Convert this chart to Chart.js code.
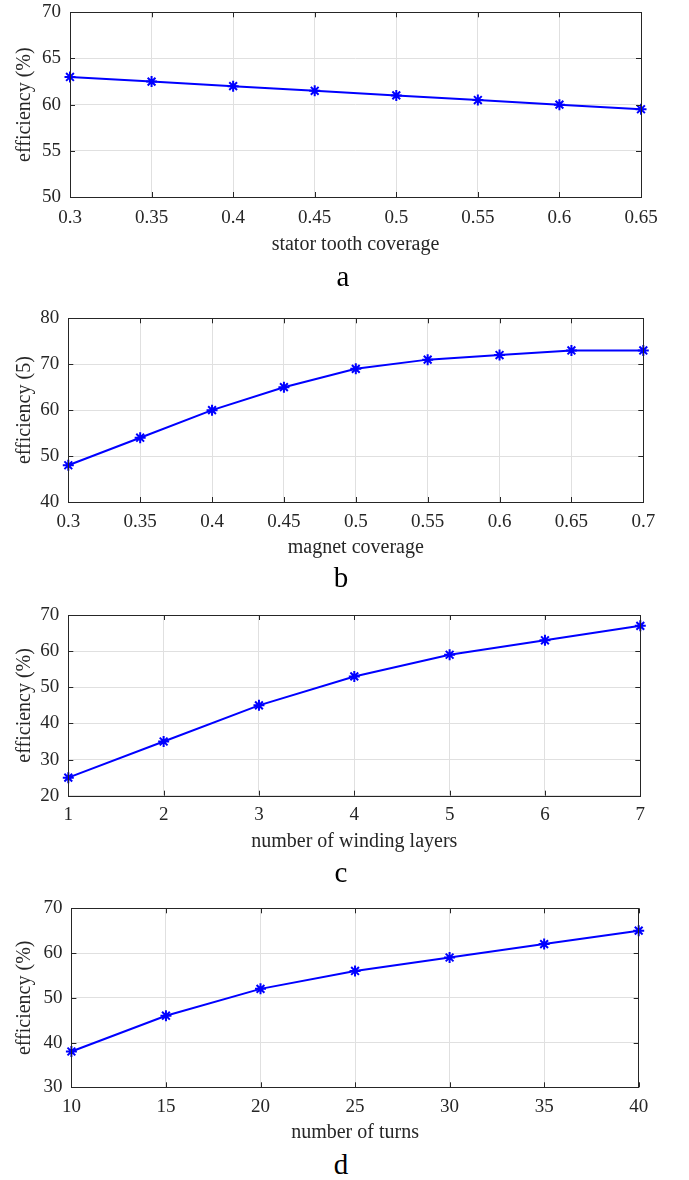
<!DOCTYPE html>
<html>
<head>
<meta charset="utf-8">
<script src="https://cdn.jsdelivr.net/npm/chart.js@4/dist/chart.umd.min.js"></script>
<style>
  body { margin: 0; background: #fff; width: 689px; height: 1180px; position: relative; overflow: hidden; }
  canvas { position: absolute; left: 0; }
  .tag { position: absolute; width: 60px; text-align: center; font-family: "Liberation Serif", serif; font-size: 29px; color: #000; line-height: 29px; }
</style>
</head>
<body>
<canvas id="chartA"></canvas>
<canvas id="chartB"></canvas>
<canvas id="chartC"></canvas>
<canvas id="chartD"></canvas>
<div class="tag" style="left:313px; top:262px;">a</div>
<div class="tag" style="left:311px; top:563px;">b</div>
<div class="tag" style="left:311px; top:858px;">c</div>
<div class="tag" style="left:311px; top:1150px;">d</div>
<script>
// a: stator tooth coverage
const toothCoverage = [0.3, 0.35, 0.4, 0.45, 0.5, 0.55, 0.6, 0.65];
const effTooth = [63, 62.5, 62, 61.5, 61, 60.5, 60, 59.5];
// b: magnet coverage
const magnetCoverage = [0.3, 0.35, 0.4, 0.45, 0.5, 0.55, 0.6, 0.65, 0.7];
const effMagnet = [48, 54, 60, 65, 69, 71, 72, 73, 73];
// c: winding layers
const windingLayers = [1, 2, 3, 4, 5, 6, 7];
const effLayers = [25, 35, 45, 53, 59, 63, 67];
// d: number of turns
const turns = [10, 15, 20, 25, 30, 35, 40];
const effTurns = [38, 46, 52, 56, 59, 62, 65];

const FONT = '"Liberation Serif", "Times New Roman", serif';
const INK = '#262626';

// MATLAB style box with inward ticks
const boxPlugin = {
    id: 'matlabBox',
    afterDatasetsDraw(chart) {
        const {ctx, chartArea: a, scales} = chart;
        const len = 5;
        ctx.save();
        ctx.strokeStyle = INK;
        ctx.lineWidth = 1;
        ctx.beginPath();
        scales.x.ticks.forEach(t => {
            const px = Math.round(scales.x.getPixelForValue(t.value)) + 0.5;
            ctx.moveTo(px, a.bottom); ctx.lineTo(px, a.bottom - len);
            ctx.moveTo(px, a.top); ctx.lineTo(px, a.top + len);
        });
        scales.y.ticks.forEach(t => {
            const py = Math.round(scales.y.getPixelForValue(t.value)) + 0.5;
            ctx.moveTo(a.left, py); ctx.lineTo(a.left + len, py);
            ctx.moveTo(a.right, py); ctx.lineTo(a.right - len, py);
        });
        ctx.stroke();
        ctx.strokeRect(Math.round(a.left) + 0.5, Math.round(a.top) + 0.5,
            Math.round(a.right - a.left), Math.round(a.bottom - a.top));
        ctx.restore();
    }
};

function makeChart(id, g, xs, ys, xTitle, yTitle, xr, yr) {
    const canvas = document.getElementById(id);
    canvas.width = 689;
    canvas.height = g.H;
    canvas.style.top = g.T + 'px';
    const points = xs.map((x, i) => ({x: x, y: ys[i]}));
    return new Chart(canvas.getContext('2d'), {
        type: 'line',
        data: {
            datasets: [{
                data: points,
                borderColor: '#0000ff',
                backgroundColor: '#0000ff',
                borderWidth: 2,
                pointStyle: 'star',
                pointRadius: 5.5,
                pointBorderWidth: 2,
                pointBorderColor: '#0000ff',
                tension: 0,
                clip: false
            }]
        },
        options: {
            responsive: false,
            animation: false,
            devicePixelRatio: 1,
            layout: { padding: { top: g.top - g.T, right: 689 - g.right, left: 0, bottom: 0 } },
            plugins: { legend: { display: false }, tooltip: { enabled: false } },
            scales: {
                x: {
                    type: 'linear',
                    min: xr[0], max: xr[1],
                    afterFit: s => { s.height = g.T + g.H - g.bottom; },
                    border: { display: false },
                    grid: { color: '#e0e0e0', drawTicks: false },
                    ticks: {
                        stepSize: xr[2], padding: g.tickPad, color: INK,
                        font: { family: FONT, size: 19 },
                        maxRotation: 0, autoSkip: false,
                        callback: v => String(+v.toFixed(2))
                    },
                    title: { display: true, text: xTitle, color: INK, font: { family: FONT, size: 20 }, padding: { top: 0, bottom: 0 } }
                },
                y: {
                    min: yr[0], max: yr[1],
                    afterFit: s => { s.width = g.left; },
                    border: { display: false },
                    // invisible tick marks give the label gap without padding the chart top
                    grid: { color: '#e0e0e0', drawTicks: true, tickLength: 9, tickColor: 'rgba(0,0,0,0)' },
                    ticks: {
                        stepSize: yr[2], padding: 0, color: INK,
                        font: { family: FONT, size: 19, lineHeight: 1 }
                    },
                    title: { display: true, text: yTitle, color: INK, font: { family: FONT, size: 20 }, padding: { top: 13, bottom: 0 } }
                }
            }
        },
        plugins: [boxPlugin]
    });
}

makeChart('chartA', {T: 0, H: 257, top: 12.3, bottom: 197, left: 70, right: 641, tickPad: 10},
    toothCoverage, effTooth, 'stator tooth coverage', 'efficiency (%)', [0.3, 0.65, 0.05], [50, 70, 5]);
makeChart('chartB', {T: 262, H: 298, top: 318.3, bottom: 502, left: 68.3, right: 643.3, tickPad: 8.5},
    magnetCoverage, effMagnet, 'magnet coverage', 'efficiency (5)', [0.3, 0.7, 0.05], [40, 80, 10]);
makeChart('chartC', {T: 565, H: 289, top: 615, bottom: 795.7, left: 68.3, right: 640.3, tickPad: 8},
    windingLayers, effLayers, 'number of winding layers', 'efficiency (%)', [1, 7, 1], [20, 70, 10]);
makeChart('chartD', {T: 860, H: 285, top: 908.3, bottom: 1087.3, left: 71.4, right: 638.7, tickPad: 8},
    turns, effTurns, 'number of turns', 'efficiency (%)', [10, 40, 5], [30, 70, 10]);
</script>
</body>
</html>
